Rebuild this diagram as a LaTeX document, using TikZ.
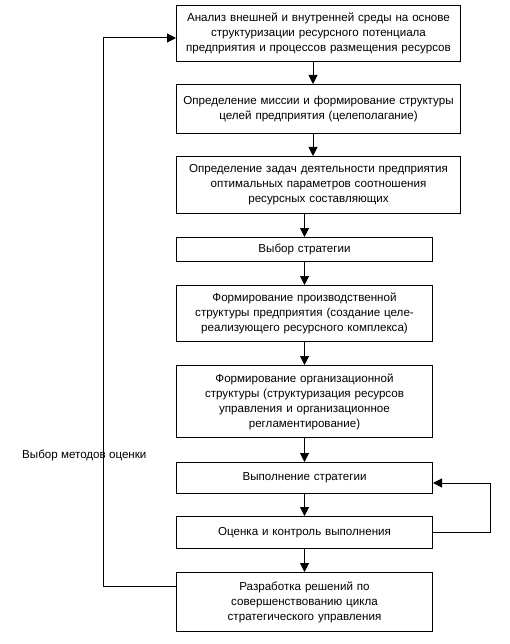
\documentclass[tikz,border=0pt]{standalone}
\usepackage{fontspec}
\setmainfont{Liberation Sans}
\usetikzlibrary{arrows.meta}
\begin{document}
\begin{tikzpicture}[x=1pt,y=-1pt,
  box/.style={draw, line width=1pt, rectangle, anchor=north west, inner sep=0pt,
    align=center, font=\fontsize{11.6}{15}\selectfont},
  arr/.style={line width=1pt, -{Triangle[length=9pt,width=9pt]}}]
\useasboundingbox (0,0) rectangle (510,644);
\node[box, minimum width=284pt, minimum height=56pt, text width=282pt] (b1) at (176,5)
  {Анализ внешней и внутренней среды на основе\\структуризации ресурсного потенциала\\предприятия и процессов размещения ресурсов};
\node[box, minimum width=284pt, minimum height=49pt, text width=282pt] (b2) at (176,84)
  {Определение миссии и формирование структуры\\целей предприятия (целеполагание)\vphantom{\rule{0pt}{10pt}}\\[-6pt]};
\node[box, minimum width=284pt, minimum height=57pt, text width=282pt] (b3) at (176,156)
  {Определение задач деятельности предприятия\\оптимальных параметров соотношения\\ресурсных составляющих};
\node[box, minimum width=256pt, minimum height=24pt, text width=250pt] (b4) at (176,237)
  {Выбор стратегии};
\node[box, minimum width=256pt, minimum height=56pt, text width=250pt] (b5) at (176,285)
  {Формирование производственной\\структуры предприятия (создание целе-\\реализующего ресурсного комплекса)};
\node[box, minimum width=256pt, minimum height=72pt, text width=250pt] (b6) at (176,365)
  {Формирование организационной\\структуры (структуризация ресурсов\\управления и организационное\\регламентирование)};
\node[box, minimum width=256pt, minimum height=31pt, text width=250pt] (b7) at (176,462)
  {Выполнение стратегии};
\node[box, minimum width=256pt, minimum height=32pt, text width=250pt] (b8) at (176,516)
  {Оценка и контроль выполнения};
\node[box, minimum width=256pt, minimum height=59pt, text width=250pt] (b9) at (176,572)
  {Разработка решений по\\совершенствованию цикла\\стратегического управления};
\node[anchor=west, inner sep=0pt, font=\fontsize{11.6}{15}\selectfont] (lab) at (22,455) {Выбор методов оценки};
\coordinate (c1) at (313,0);
\coordinate (L) at (103,38);
\coordinate (R) at (490,483);
\draw[arr] (b1.south -| c1) -- (b2.north -| c1);
\draw[arr] (b2.south -| c1) -- (b3.north -| c1);
\draw[arr] (b3.south -| b4.north) -- (b4.north);
\draw[arr] (b4.south) -- (b5.north);
\draw[arr] (b5.south) -- (b6.north);
\draw[arr] (b6.south) -- (b7.north);
\draw[arr] (b7.south) -- (b8.north);
\draw[arr] (b8.south) -- (b9.north);
\draw[arr] (b8.east) -| (R) -- (R -| b7.east);
\draw[arr] ([yshift=-14pt]b9.north west) -| (L) -- (L -| b1.west);
\end{tikzpicture}
\end{document}
